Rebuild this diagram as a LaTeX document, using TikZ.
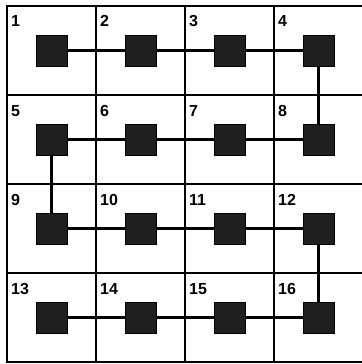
\documentclass[tikz,border=0pt]{standalone}
\usepackage{fontspec}
\setmainfont{Liberation Sans}
\usepackage{tikz}
\usetikzlibrary{positioning}

\begin{document}
\begin{tikzpicture}[
  x=1pt, y=-1pt,
  every node/.style={font=\fontsize{16}{18}\selectfont\bfseries},
  cell/.style={draw, line width=2.4pt, minimum size=89pt, inner sep=0pt, outer sep=0pt},
  blk/.style ={draw, line width=0.6pt, fill=black!88, minimum size=31pt, inner sep=0pt},
  num/.style ={anchor=base west, inner sep=0pt},
  lnk/.style ={line width=2.8pt}
]
  \useasboundingbox (0,0) rectangle (361.5,364);
  % grid of cells
  \node[cell] (c1) at (51.5,50.5) {};
  \node[cell, right=0pt of c1] (c2) {};
  \node[cell, right=0pt of c2] (c3) {};
  \node[cell, right=0pt of c3] (c4) {};
  \node[cell, below=0pt of c1] (c5) {};
  \node[cell, right=0pt of c5] (c6) {};
  \node[cell, right=0pt of c6] (c7) {};
  \node[cell, right=0pt of c7] (c8) {};
  \node[cell, below=0pt of c5] (c9) {};
  \node[cell, right=0pt of c9] (c10) {};
  \node[cell, right=0pt of c10] (c11) {};
  \node[cell, right=0pt of c11] (c12) {};
  \node[cell, below=0pt of c9] (c13) {};
  \node[cell, right=0pt of c13] (c14) {};
  \node[cell, right=0pt of c14] (c15) {};
  \node[cell, right=0pt of c15] (c16) {};
  % cell numbers
  \node[num] (n1)  at ([shift={(4pt,-21pt)}]c1.north west)  {1};
  \node[num] (n2)  at ([shift={(4pt,-21pt)}]c2.north west)  {2};
  \node[num] (n3)  at ([shift={(4pt,-21pt)}]c3.north west)  {3};
  \node[num] (n4)  at ([shift={(4pt,-21pt)}]c4.north west)  {4};
  \node[num] (n5)  at ([shift={(4pt,-21pt)}]c5.north west)  {5};
  \node[num] (n6)  at ([shift={(4pt,-21pt)}]c6.north west)  {6};
  \node[num] (n7)  at ([shift={(4pt,-21pt)}]c7.north west)  {7};
  \node[num] (n8)  at ([shift={(4pt,-21pt)}]c8.north west)  {8};
  \node[num] (n9)  at ([shift={(4pt,-21pt)}]c9.north west)  {9};
  \node[num] (n10) at ([shift={(4pt,-21pt)}]c10.north west) {10};
  \node[num] (n11) at ([shift={(4pt,-21pt)}]c11.north west) {11};
  \node[num] (n12) at ([shift={(4pt,-21pt)}]c12.north west) {12};
  \node[num] (n13) at ([shift={(4pt,-21pt)}]c13.north west) {13};
  \node[num] (n14) at ([shift={(4pt,-21pt)}]c14.north west) {14};
  \node[num] (n15) at ([shift={(4pt,-21pt)}]c15.north west) {15};
  \node[num] (n16) at ([shift={(4pt,-21pt)}]c16.north west) {16};
  % blocks
  \node[blk] (s1)  at (c1)  {};
  \node[blk] (s2)  at (c2)  {};
  \node[blk] (s3)  at (c3)  {};
  \node[blk] (s4)  at (c4)  {};
  \node[blk] (s5)  at (c5)  {};
  \node[blk] (s6)  at (c6)  {};
  \node[blk] (s7)  at (c7)  {};
  \node[blk] (s8)  at (c8)  {};
  \node[blk] (s9)  at (c9)  {};
  \node[blk] (s10) at (c10) {};
  \node[blk] (s11) at (c11) {};
  \node[blk] (s12) at (c12) {};
  \node[blk] (s13) at (c13) {};
  \node[blk] (s14) at (c14) {};
  \node[blk] (s15) at (c15) {};
  \node[blk] (s16) at (c16) {};
  % snake path
  \draw[lnk] (s1) -- (s2);
  \draw[lnk] (s2) -- (s3);
  \draw[lnk] (s3) -- (s4);
  \draw[lnk] (s4) -- (s8);
  \draw[lnk] (s8) -- (s7);
  \draw[lnk] (s7) -- (s6);
  \draw[lnk] (s6) -- (s5);
  \draw[lnk] (s5) -- (s9);
  \draw[lnk] (s9) -- (s10);
  \draw[lnk] (s10) -- (s11);
  \draw[lnk] (s11) -- (s12);
  \draw[lnk] (s12) -- (s16);
  \draw[lnk] (s16) -- (s15);
  \draw[lnk] (s15) -- (s14);
  \draw[lnk] (s14) -- (s13);
\end{tikzpicture}
\end{document}
